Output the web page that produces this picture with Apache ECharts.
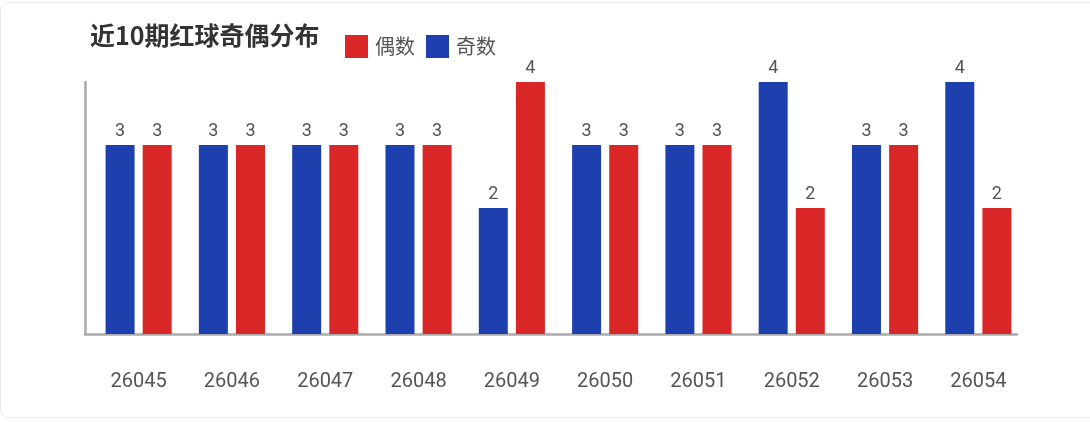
<!DOCTYPE html>
<html>
<head>
<meta charset="utf-8">
<script src="https://cdn.jsdelivr.net/npm/echarts@6/dist/echarts.min.js"></script>
<style>
html,body{margin:0;padding:0;background:#fff;overflow:hidden;}
.card{position:absolute;left:0;top:2px;width:1120px;height:416px;border:1px solid #ebebeb;border-radius:8px;box-sizing:border-box;}
#chart{position:absolute;left:0;top:0;width:1090px;height:425px;}
</style>
</head>
<body>
<div class="card"></div>
<div id="chart"></div>
<script>
/*----------data----------*/
var periods=["26045","26046","26047","26048","26049","26050","26051","26052","26053","26054"];
var oddCounts=[3,3,3,3,2,3,3,4,3,4];	//奇数 (blue)
var evenCounts=[3,3,3,3,4,3,3,2,3,2];	//偶数 (red)
/*----------chart----------*/
var chart=echarts.init(document.getElementById("chart"));
var labelStyle={
	show:true,
	position:"top",
	distance:5,
	color:"#555",
	fontSize:18,
	fontFamily:"Roboto"
};
var option={
	animation:false,
	title:{
		text:"近10期红球奇偶分布",
		left:85,
		top:18,
		textStyle:{
			fontSize:25,
			fontWeight:"bold",
			color:"#333",
			fontFamily:"Noto Sans CJK SC"
		}
	},
	legend:{
		left:340,
		top:30,
		itemWidth:23,
		itemHeight:23,
		itemGap:11,
		icon:"rect",
		data:["偶数","奇数"],
		textStyle:{
			fontSize:20,
			color:"#555",
			fontFamily:"Noto Sans CJK SC",
			padding:[0,0,0,2]
		}
	},
	grid:[
		{left:92,right:65,top:82,bottom:91},	//bars
		{left:85,right:73,top:82,bottom:91}	//axis lines only
	],
	xAxis:[
		{
			type:"category",
			gridIndex:0,
			data:periods,
			axisLine:{show:false},
			axisTick:{show:false},
			axisLabel:{
				margin:38,
				fontSize:20,
				color:"#555",
				fontFamily:"Roboto"
			}
		},
		{
			type:"category",
			gridIndex:1,
			data:periods,
			axisLine:{show:true,lineStyle:{color:"#aaa",width:2.5}},
			axisTick:{show:false},
			axisLabel:{show:false}
		}
	],
	yAxis:[
		{
			type:"value",
			gridIndex:0,
			min:0,
			max:4,
			interval:1,
			axisLine:{show:false},
			axisTick:{show:false},
			axisLabel:{show:false},
			splitLine:{show:false}
		},
		{
			type:"value",
			gridIndex:1,
			min:0,
			max:4,
			interval:1,
			axisLine:{show:true,lineStyle:{color:"#aaa",width:2.5}},
			axisTick:{show:false},
			axisLabel:{show:false},
			splitLine:{show:false}
		}
	],
	series:[
		{
			type:"bar",
			name:"奇数",
			data:oddCounts,
			barWidth:29,
			barGap:"28%",
			itemStyle:{color:"#1e3fae"},
			label:labelStyle
		},
		{
			type:"bar",
			name:"偶数",
			data:evenCounts,
			barWidth:29,
			barGap:"28%",
			itemStyle:{color:"#d92626"},
			label:labelStyle
		}
	]
};
chart.setOption(option);
</script>
</body>
</html>
